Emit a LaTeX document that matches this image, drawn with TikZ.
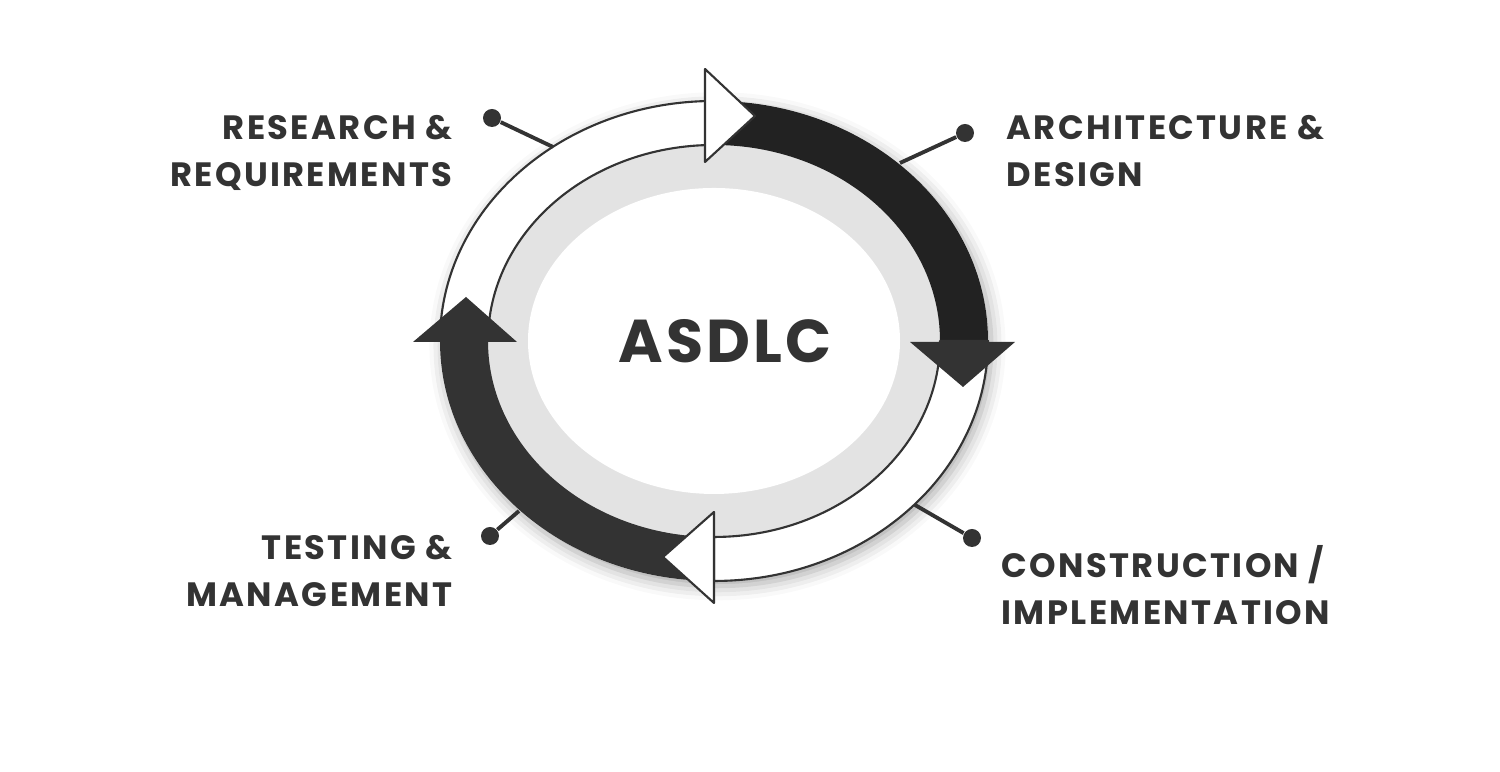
\documentclass[tikz,border=0pt]{standalone}
\usepackage{fontspec}
\newfontfamily\labelfont{Poppins}[BoldFont = * Bold, LetterSpace = 7]
\newfontfamily\hubfont{Poppins}[BoldFont = * Bold, LetterSpace = 5]
\usepackage{tikz}
\usetikzlibrary{calc, shadows.blur}

\definecolor{ink}{HTML}{333333}
\definecolor{darkarc}{HTML}{222222}
\definecolor{hub}{HTML}{E3E3E3}

\begin{document}
\begin{tikzpicture}[
    line join = round,
    phase/.style = {font = \labelfont\bfseries\fontsize{9.6}{13.4}\selectfont,
      text = ink,
      inner sep = 0pt},
    pin/.style = {circle,
      fill = ink,
      inner sep = 0pt,
      minimum size = 0.18cm},
    whitearc/.style = {fill = white, draw = ink, line width = 0.6pt},
    darkhead/.style = {fill = ink},
    whitehead/.style = {fill = white, draw = ink, line width = 0.6pt}
    ]
    \useasboundingbox (0, 0) rectangle (15, 7.72);
    \coordinate (C) at (7.14, 4.31);

    % soft shadow under the ring
    \fill [white, blur shadow = {shadow xshift = 1pt, shadow yshift = -1.5pt,
        shadow blur radius = 4pt, shadow opacity = 35}]
    (C) ellipse [x radius = 2.74, y radius = 2.40];

    % hub
    \fill [hub, blur shadow = {shadow xshift = 0.5pt, shadow yshift = -1pt,
        shadow blur radius = 3pt, shadow opacity = 30}]
    (C) ellipse [x radius = 2.26, y radius = 1.96];
    \fill [white] (C) ellipse [x radius = 1.86, y radius = 1.53];
    \node at (7.25, 4.31) [font = \hubfont\bfseries\fontsize{17.2}{20}\selectfont,
      text = ink, name = asdlc] {ASDLC};

    % ring quarters
    \draw [whitearc] ($(C) + (-2.74, 0)$)
    arc [start angle = 180, end angle = 90, x radius = 2.74, y radius = 2.40]
    -- ($(C) + (0, 1.96)$)
    arc [start angle = 90, end angle = 180, x radius = 2.26, y radius = 1.96]
    -- cycle;
    \fill [darkarc] ($(C) + (0, 2.40)$)
    arc [start angle = 90, end angle = 0, x radius = 2.74, y radius = 2.40]
    -- ($(C) + (2.26, 0)$)
    arc [start angle = 0, end angle = 90, x radius = 2.26, y radius = 1.96]
    -- cycle;
    \draw [whitearc] ($(C) + (2.74, 0)$)
    arc [start angle = 0, end angle = -90, x radius = 2.74, y radius = 2.40]
    -- ($(C) + (0, -1.96)$)
    arc [start angle = -90, end angle = 0, x radius = 2.26, y radius = 1.96]
    -- cycle;
    \fill [ink] ($(C) + (0, -2.40)$)
    arc [start angle = 270, end angle = 180, x radius = 2.74, y radius = 2.40]
    -- ($(C) + (-2.26, 0)$)
    arc [start angle = 180, end angle = 270, x radius = 2.26, y radius = 1.96]
    -- cycle;

    % arrow heads
    \draw [whitehead] (7.05, 7.03) -- (7.55, 6.56) -- (7.05, 6.10) -- cycle;
    \fill [darkhead] (9.10, 4.30) -- (10.15, 4.30) -- (9.63, 3.85) -- cycle;
    \draw [whitehead] (7.14, 2.60) -- (6.63, 2.15) -- (7.14, 1.69) -- cycle;
    \fill [darkhead] (4.13, 4.30) -- (5.17, 4.30) -- (4.66, 4.75) -- cycle;

    % pins
    \coordinate (rrring) at (5.53, 6.25);
    \coordinate (adring) at (9.00, 6.09);
    \coordinate (ciring) at (9.15, 2.67);
    \coordinate (tmring) at (5.19, 2.61);
    \node at (4.92, 6.54) [pin, name = rrdot] {};
    \node at (9.65, 6.39) [pin, name = addot] {};
    \node at (9.72, 2.34) [pin, name = cidot] {};
    \node at (4.90, 2.36) [pin, name = tmdot] {};
    \draw [ink, line width = 1.1pt] (rrdot) -- (rrring);
    \draw [ink, line width = 1.1pt] (addot) -- (adring);
    \draw [ink, line width = 1.1pt] (cidot) -- (ciring);
    \draw [ink, line width = 1.1pt] (tmdot) -- (tmring);

    % labels
    \node at (4.53, 6.57) [phase, anchor = north east, align = right,
      name = research] {RESEARCH \&\\REQUIREMENTS};
    \node at (10.06, 6.57) [phase, anchor = north west, align = left,
      name = design] {ARCHITECTURE \&\\DESIGN};
    \node at (10.01, 2.27) [phase, anchor = north west, align = left,
      name = build] {CONSTRUCTION /\\IMPLEMENTATION};
    \node at (4.53, 2.37) [phase, anchor = north east, align = right,
      name = testing] {TESTING \&\\MANAGEMENT};
  \end{tikzpicture}
\end{document}
